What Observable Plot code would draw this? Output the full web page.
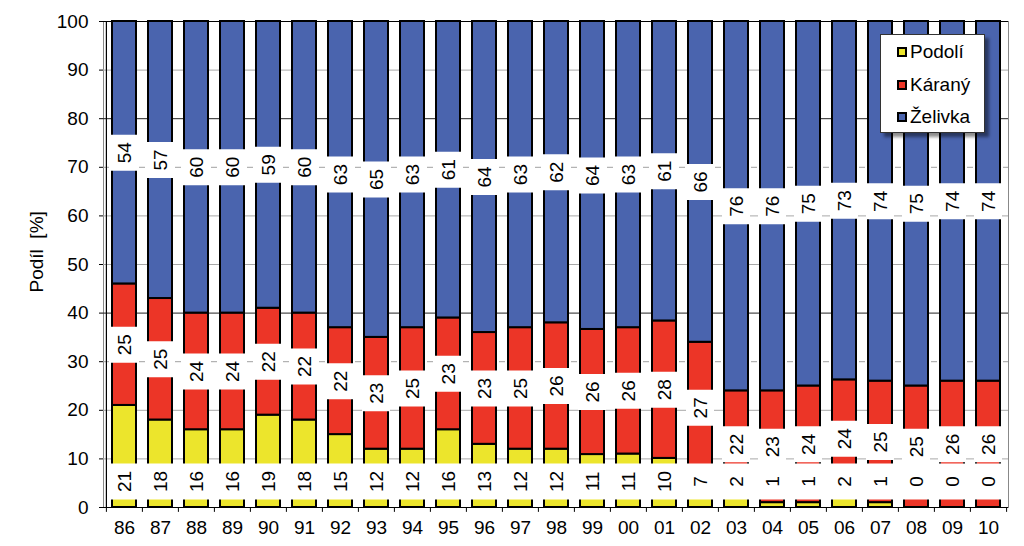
<!DOCTYPE html>
<html><head><meta charset="utf-8">
<script src="https://cdn.jsdelivr.net/npm/d3@7"></script>
<script src="https://cdn.jsdelivr.net/npm/@observablehq/plot@0.6"></script>
<style>
body{margin:0;background:#fff;font-family:"Liberation Sans",Arial,sans-serif}
#wrap{position:relative;width:1024px;height:546px}
#legend{position:absolute;left:880px;top:34px;width:103px;height:97px;border:1px solid #333;background:#fff;box-shadow:4px 4px 3px rgba(0,0,0,0.45);}
.row{position:absolute;left:16px;font-size:19px;line-height:22px;display:flex;align-items:center;color:#000}
.sw{width:6px;height:6px;border:2px solid #000;margin-right:3px}
</style></head><body><div id="wrap"><div id="legend"></div></div>
<script>
const years = ["86","87","88","89","90","91","92","93","94","95","96","97","98","99","00","01","02","03","04","05","06","07","08","09","10"];
const podoli  = [21,18,16,16,19,18,15,12,12,16,13,12,12,11,11,10,7,2,1,1,2,1,0,0,0];
const karany  = [25,25,24,24,22,22,22,23,25,23,23,25,26,26,26,28,27,22,23,24,24,25,25,26,26];
const zelivka = [54,57,60,60,59,60,63,65,63,61,64,63,62,64,63,61,66,76,76,75,73,74,75,74,74];
const seriesNames = ["Podolí","Káraný","Želivka"];
const seriesColors = ["#ECE52C","#EC3527","#4A64AE"];
const yTicks = [0,10,20,30,40,50,60,70,80,90,100];
const yLabel = "Podíl\u00a0\u00a0[%]";

const seriesValues = [podoli, karany, zelivka];
const table = [];
years.forEach((y, i) => seriesNames.forEach((s, k) => table.push({year: y, series: s, value: seriesValues[k][i]})));
const podoliTable = years.map((y, i) => ({year: y, value: podoli[i]}));

const W = 1024, H = 546, mL = 103, mR = 16, mT = 21, mB = 39;
const step = (W - mL - mR) / years.length;
const stackOpts = {offset: "normalize", order: seriesNames, x: "year", y: "value", z: "series"};
const baseLabelY = 0.0535;
const fontSize = 19;

const chart = Plot.plot({
  width: W, height: H,
  marginLeft: mL, marginRight: mR, marginTop: mT, marginBottom: mB,
  style: {fontFamily: '"Liberation Sans", Arial, sans-serif', fontSize: fontSize + "px", background: "white"},
  x: {domain: years, paddingInner: 0.34, paddingOuter: 0.17, label: null},
  y: {domain: [0, 1], label: null},
  color: {domain: seriesNames, range: seriesColors},
  marks: [
    Plot.frame({stroke: "#888"}),
    Plot.ruleY(yTicks.filter(t => [10,20,50,60,90].includes(t)).map(t => t / 100), {stroke: "#a8a8a8"}),
    Plot.ruleY(yTicks.filter(t => [30,70].includes(t)).map(t => t / 100), {stroke: "#a0a0a0", strokeDasharray: "6,6"}),
    Plot.ruleY(yTicks.filter(t => [40,80].includes(t)).map(t => t / 100), {stroke: "#222"}),
    Plot.barY(table, Plot.stackY({...stackOpts, fill: "series", stroke: "black", strokeWidth: 2})),
    Plot.tickY(table, Plot.stackY({...stackOpts, stroke: "white", strokeWidth: 36, insetLeft: -2, insetRight: -2,
      strokeOpacity: d => d.series === "Podolí" ? 0 : 1})),
    Plot.text(table, Plot.stackY({...stackOpts, text: d => d.series === "Podolí" ? null : String(d.value),
      rotate: -90, fill: "black", fontSize: fontSize})),
    Plot.tickY(years, {x: d => d, y: baseLabelY, stroke: "white", strokeWidth: 36, insetLeft: -2, insetRight: -2}),
    Plot.text(podoliTable, {x: "year", y: baseLabelY, text: d => String(d.value), rotate: -90, fill: "black", fontSize: fontSize}),
    Plot.ruleY([0, 1], {stroke: "black", strokeWidth: 1.2}),
    Plot.ruleX([years[0]], {x: d => d, dx: -step / 2, y1: 0, y2: 1, stroke: "black", strokeWidth: 1.2}),
    Plot.ruleX(years, {x: d => d, dx: -step / 2, y1: 0, y2: -0.01, stroke: "black"}),
    Plot.ruleX([years[years.length - 1]], {x: d => d, dx: step / 2, y1: 0, y2: -0.01, stroke: "black"}),
    Plot.axisY(yTicks.map(t => t / 100), {tickFormat: d => String(Math.round(d * 100)), tickSize: 4, tickPadding: 11, fontSize: fontSize, label: null}),
    Plot.axisX({tickSize: 0, tickPadding: 13, fontSize: fontSize, label: null}),
    Plot.text([yLabel], {frameAnchor: "left", dx: -67, dy: 28, rotate: -90, fontSize: fontSize, fill: "black"})
  ]
});
document.getElementById("wrap").prepend(chart);

const legend = document.getElementById("legend");
seriesNames.forEach((s, k) => {
  const row = document.createElement("div");
  row.className = "row";
  row.style.top = (6 + k * 32.5) + "px";
  const sw = document.createElement("span");
  sw.className = "sw";
  sw.style.background = seriesColors[k];
  const t = document.createElement("span");
  t.textContent = s;
  row.appendChild(sw); row.appendChild(t);
  legend.appendChild(row);
});
</script>
</body></html>
